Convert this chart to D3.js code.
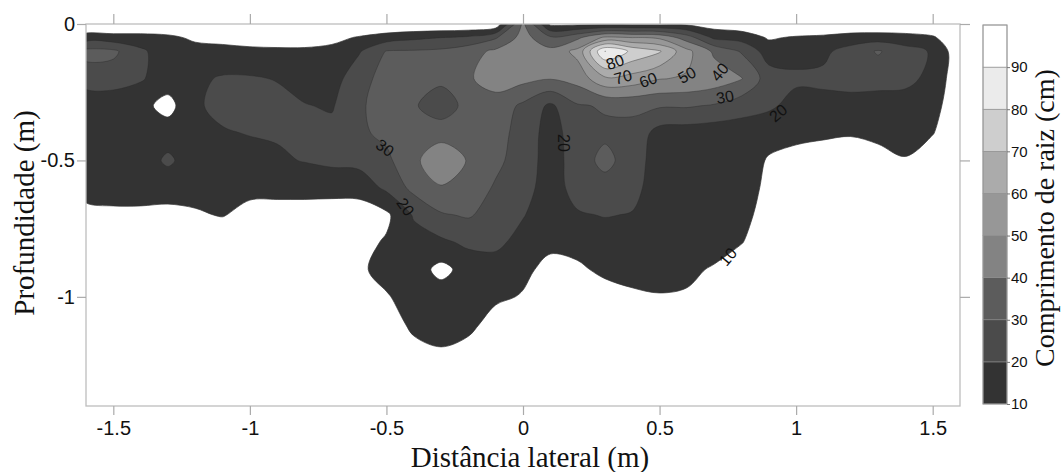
<!DOCTYPE html>
<html>
<head>
<meta charset="utf-8">
<script src="https://cdn.jsdelivr.net/npm/d3@7"></script>
<style>
  body { margin: 0; background: #fff; }
  text { font-family: "Liberation Sans", Arial, sans-serif; fill: #111; }
  .title { font-family: "Liberation Serif", "Times New Roman", serif; font-size: 29px; }
</style>
</head>
<body>
<script>
// lateral distance of each sampled column (m)
var distances = [-1.6, -1.5, -1.4, -1.3, -1.2, -1.1, -1.0, -0.9, -0.8, -0.7, -0.6,
  -0.5, -0.4, -0.3, -0.2, -0.1, 0, 0.1, 0.2, 0.3, 0.4, 0.5, 0.6, 0.7, 0.8, 0.9,
  1.0, 1.1, 1.2, 1.3, 1.4, 1.5, 1.6];

// depth of each sampled row (m)
var depths = [0, 0.05, 0.1, 0.2, 0.3, 0.4, 0.5, 0.6, 0.7, 0.8, 0.9, 1.0, 1.1, 1.2, 1.3];

// root length (cm) profile for each column, top to bottom
var rootLength = [
  [0, 15, 33, 25, 12.5, 15, 14, 12.5, 8, 2, 0, 0, 0, 0, 0],     // -1.6
  [0, 14, 32, 25, 13, 14.5, 14, 13, 8.5, 2, 0, 0, 0, 0, 0],     // -1.5
  [0, 14, 22, 21, 13, 14, 14, 13, 8.5, 2, 0, 0, 0, 0, 0],       // -1.4
  [0, 12.5, 14, 15, 6.5, 15, 22, 13, 8, 2, 0, 0, 0, 0, 0],      // -1.3
  [0, 8, 14, 18, 18.5, 15, 14, 13, 9, 2, 0, 0, 0, 0, 0],        // -1.2
  [0, 7, 13, 21, 23, 19, 15, 13, 10.5, 3, 0, 0, 0, 0, 0],       // -1.1
  [0, 6, 12, 21, 24, 20.5, 16, 12.5, 7, 1, 0, 0, 0, 0, 0],      // -1.0
  [0, 6, 11.5, 19.5, 23, 21, 18.5, 13, 6, 1, 0, 0, 0, 0, 0],    // -0.9
  [0, 6, 11.5, 16, 20.5, 24, 20.5, 13, 6, 1, 0, 0, 0, 0, 0],    // -0.8
  [0, 7, 13, 15, 19, 23, 22, 14, 4, 1, 0, 0, 0, 0, 0],          // -0.7
  [0, 11, 19, 27, 29, 28.5, 23, 14, 4.5, 7, 8, 4, 0, 0, 0],     // -0.6
  [0, 15, 30.5, 33, 33, 32, 28, 22, 8, 11, 14, 9, 3, 0, 0],     // -0.5
  [0, 18, 31, 32, 31, 32, 37, 33, 21, 16, 15, 15, 13, 6, 0],    // -0.4
  [0, 20, 32, 32, 25, 35, 49.5, 39, 29, 18, 7, 15, 15, 9, 2],   // -0.3
  [0, 22, 36, 39, 33, 34, 39, 35, 31, 22, 14, 15, 14, 5, 0],    // -0.2
  [2, 29, 42, 44, 36, 33, 32, 29, 26, 22, 16, 12.5, 4, 0, 0],   // -0.1
  [42, 44, 46, 43, 28, 27, 26, 24, 20.5, 17, 13, 9, 2, 0, 0],   // 0
  [8, 32, 43, 40.5, 18, 15, 15, 15, 15, 13, 6, 0, 0, 0, 0],     // 0.1
  [8, 38, 53, 44, 29, 26, 25, 24, 19, 14, 8, 2, 0, 0, 0],       // 0.2
  [8, 52, 90.3, 58, 31, 28, 33, 26, 20.5, 15, 12.5, 5, 0, 0, 0],// 0.3
  [8, 50, 78, 56, 32, 27, 25, 23, 19.5, 15, 13, 8.5, 1, 0, 0],  // 0.4
  [8, 48, 71, 50.5, 31, 16, 15, 15, 14, 13.5, 13, 9.5, 3, 0, 0],// 0.5
  [8, 35, 53, 49, 31, 15, 14, 14, 14, 13, 11, 9.5, 3, 0, 0],    // 0.6
  [5, 18, 38, 46, 29, 14, 13, 13, 12.5, 12, 9.5, 2, 0, 0, 0],   // 0.7
  [3, 16, 29, 40.5, 24, 15, 13, 12, 11.5, 10.5, 3, 0, 0, 0, 0], // 0.8
  [2, 9, 15, 25, 22, 12, 9.5, 9, 8, 3, 0, 0, 0, 0, 0],          // 0.9
  [1, 11, 16, 22, 16, 13, 6, 0, 0, 0, 0, 0, 0, 0, 0],           // 1.0
  [1, 12, 18, 22, 17, 12, 4, 0, 0, 0, 0, 0, 0, 0, 0],           // 1.1
  [1, 14.5, 24, 23, 17, 11, 3, 0, 0, 0, 0, 0, 0, 0, 0],         // 1.2
  [1, 15, 31, 24, 15, 12, 7, 0, 0, 0, 0, 0, 0, 0, 0],           // 1.3
  [1, 14, 24, 23, 15, 13, 9.5, 1, 0, 0, 0, 0, 0, 0, 0],         // 1.4
  [0, 11.5, 19, 17, 14, 10.5, 3, 0, 0, 0, 0, 0, 0, 0, 0],       // 1.5
  [0, 1, 3, 3, 2, 1, 0, 0, 0, 0, 0, 0, 0, 0, 0]                 // 1.6
];

var levels = [10, 20, 30, 40, 50, 60, 70, 80, 90, 100];
var bandColors = ["#333333", "#4b4b4b", "#5c5c5c", "#838383", "#979797",
  "#ababab", "#cecece", "#ebebeb", "#ffffff"];

var xTicks = [-1.5, -1, -0.5, 0, 0.5, 1, 1.5];
var yTicks = [0, -0.5, -1];
var barTicks = [10, 20, 30, 40, 50, 60, 70, 80, 90];

// inline contour labels: value, distance, depth, rotation
var contourLabels = [
  {v: 30, x: -0.505, d: 0.454, a: 35},
  {v: 20, x: -0.43, d: 0.67, a: 55},
  {v: 20, x: 0.147, d: 0.436, a: 90},
  {v: 80, x: 0.337, d: 0.139, a: -20},
  {v: 70, x: 0.366, d: 0.194, a: -15},
  {v: 60, x: 0.458, d: 0.205, a: -20},
  {v: 50, x: 0.6, d: 0.187, a: -30},
  {v: 40, x: 0.72, d: 0.176, a: -50},
  {v: 30, x: 0.74, d: 0.267, a: -10},
  {v: 20, x: 0.934, d: 0.326, a: -40},
  {v: 10, x: 0.75, d: 0.853, a: -50}
];

var W = 1061, H = 472;
var svg = d3.select("body").append("svg")
  .attr("width", W)
  .attr("height", H);

var x = d3.scaleLinear().domain([-1.6, 1.6]).range([86, 960]);
var y = d3.scaleLinear().domain([0, -1.4]).range([24, 406]);

svg.append("clipPath").attr("id", "plot")
  .append("rect")
  .attr("x", x(-1.6)).attr("y", y(0))
  .attr("width", x(1.6) - x(-1.6)).attr("height", y(-1.4) - y(0));

// flatten to row-major grid for d3.contours
var nx = distances.length, ny = depths.length;
var values = [];
for (var j = 0; j < ny; j++) {
  for (var i = 0; i < nx; i++) values.push(rootLength[i][j]);
}

var colScale = d3.scaleLinear().domain([0, nx - 1]).range([distances[0], distances[nx - 1]]);
var rowScale = d3.scaleLinear().domain(d3.range(ny)).range(depths);

function toPixel(p) {
  return [x(colScale(p[0] - 0.5)), y(-rowScale(p[1] - 0.5))];
}

var contours = d3.contours()
  .size([nx, ny])
  .thresholds(levels.slice(0, -1))(values);

var ringLine = d3.line().curve(d3.curveCatmullRomClosed.alpha(0.5));

function contourPath(geom) {
  return geom.coordinates.map(function(poly) {
    return poly.map(function(ring) {
      return ringLine(ring.slice(0, -1).map(toPixel));
    }).join("");
  }).join("");
}

var plot = svg.append("g").attr("clip-path", "url(#plot)");

plot.selectAll("path")
  .data(contours)
  .enter().append("path")
  .attr("d", contourPath)
  .attr("fill-rule", "evenodd")
  .attr("fill", function(d, i) { return bandColors[i]; })
  .attr("stroke", function(d, i) { return i === 0 ? bandColors[0] : "rgba(40,40,40,0.55)"; })
  .attr("stroke-width", 0.7);

plot.selectAll("text")
  .data(contourLabels)
  .enter().append("text")
  .attr("transform", function(d) {
    return "translate(" + x(d.x) + "," + y(-d.d) + ") rotate(" + d.a + ")";
  })
  .attr("text-anchor", "middle")
  .attr("dy", "0.35em")
  .style("font-size", "16px")
  .text(function(d) { return d.v; });

// frame
svg.append("rect")
  .attr("x", x(-1.6)).attr("y", y(0))
  .attr("width", x(1.6) - x(-1.6)).attr("height", y(-1.4) - y(0))
  .attr("fill", "none")
  .attr("stroke", "#bdbdbd")
  .attr("stroke-width", 1.3);

function styleAxis(g, size) {
  g.select(".domain").remove();
  g.selectAll(".tick line").attr("stroke", "#aaa").attr("stroke-width", 1.2);
  g.selectAll(".tick text").style("font-size", size + "px");
}

svg.append("g")
  .attr("transform", "translate(0," + y(-1.4) + ")")
  .call(d3.axisBottom(x).tickValues(xTicks).tickSize(9).tickPadding(6).tickFormat(String))
  .call(styleAxis, 20);

svg.append("g")
  .attr("transform", "translate(0," + y(0) + ")")
  .call(d3.axisTop(x).tickValues(xTicks).tickSize(10).tickFormat(""))
  .call(styleAxis, 20);

svg.append("g")
  .attr("transform", "translate(" + x(-1.6) + ",0)")
  .call(d3.axisLeft(y).tickValues(yTicks).tickSize(9).tickPadding(2).tickFormat(String))
  .call(styleAxis, 20);

svg.append("g")
  .attr("transform", "translate(" + x(1.6) + ",0)")
  .call(d3.axisRight(y).tickValues(yTicks).tickSize(10).tickFormat(""))
  .call(styleAxis, 20);

// axis titles
svg.append("text").attr("class", "title")
  .attr("x", 530).attr("y", 467)
  .attr("text-anchor", "middle")
  .text("Distância lateral (m)");

svg.append("text").attr("class", "title")
  .attr("transform", "translate(34,213) rotate(-90)")
  .attr("text-anchor", "middle")
  .text("Profundidade (m)");

// colour bar
var cb = d3.scaleLinear().domain([10, 100]).range([404, 25]);
var bar = svg.append("g");
bar.selectAll("rect")
  .data(bandColors)
  .enter().append("rect")
  .attr("x", 983).attr("width", 24)
  .attr("y", function(d, i) { return cb(levels[i + 1]); })
  .attr("height", function(d, i) { return cb(levels[i]) - cb(levels[i + 1]); })
  .attr("fill", function(d) { return d; })
  .attr("stroke", "#8a8a8a")
  .attr("stroke-width", 0.6);

bar.append("rect")
  .attr("x", 983).attr("y", cb(100))
  .attr("width", 24).attr("height", cb(10) - cb(100))
  .attr("fill", "none").attr("stroke", "#9a9a9a");

bar.append("g")
  .attr("transform", "translate(1007,0)")
  .call(d3.axisRight(cb).tickValues(barTicks).tickSize(3).tickPadding(1).tickFormat(String))
  .call(function(g) {
    g.select(".domain").remove();
    g.selectAll(".tick line").attr("stroke", "#777");
    g.selectAll(".tick text").style("font-size", "15px");
  });

svg.append("text").attr("class", "title")
  .attr("transform", "translate(1054,218) rotate(-90)")
  .attr("text-anchor", "middle")
  .style("font-size", "28px")
  .text("Comprimento de raiz (cm)");
</script>
</body>
</html>
